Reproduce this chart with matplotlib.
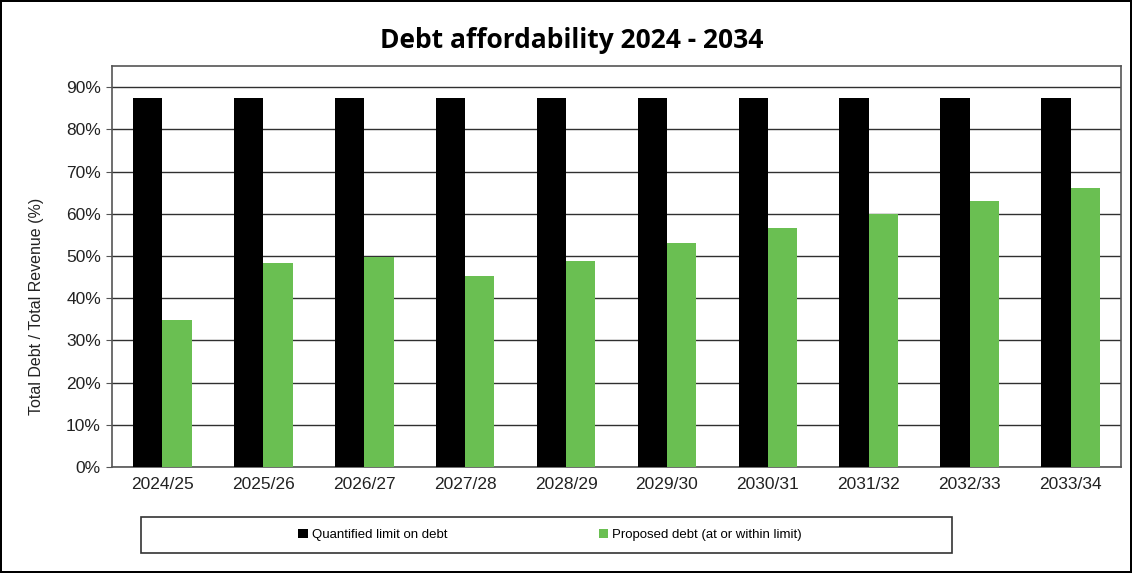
import matplotlib.pyplot as plt
import numpy as np
from matplotlib.patches import Rectangle
from matplotlib.ticker import PercentFormatter

years = ['2024/25', '2025/26', '2026/27', '2027/28', '2028/29',
         '2029/30', '2030/31', '2031/32', '2032/33', '2033/34']
limit = [87.5, 87.5, 87.5, 87.5, 87.5, 87.5, 87.5, 87.5, 87.5, 87.5]
proposed = [34.8, 48.3, 49.8, 45.2, 48.8, 53.1, 56.6, 60.0, 63.0, 66.0]

plt.rcParams['font.family'] = ['Liberation Sans', 'DejaVu Sans']

fig = plt.figure(figsize=(11.32, 5.73), dpi=100)
fig.patch.set_edgecolor('black')
fig.patch.set_linewidth(1.5)
ax = fig.add_axes([112/1132, 1 - 467/573, 1009/1132, 401/573])

x = np.arange(len(years))
w = 0.29
ax.bar(x - w/2, limit, w, color='black', label='Quantified limit on debt', zorder=3)
ax.bar(x + w/2, proposed, w, color='#6abf52', label='Proposed debt (at or within limit)', zorder=3)

ax.set_xlim(-0.5, len(years) - 0.5)
ax.set_ylim(0, 95)
ax.set_yticks(np.arange(0, 91, 10))
ax.yaxis.set_major_formatter(PercentFormatter(decimals=0))
ax.set_xticks(x)
ax.set_xticklabels(years)
ax.tick_params(axis='both', labelsize=12.5, colors='#222222', length=0, pad=7)
ax.tick_params(axis='y', length=4, color='#555555', pad=4)
ax.grid(axis='y', color='#303030', linewidth=1, zorder=0)
for s in ax.spines.values():
    s.set_color('#555555')
    s.set_linewidth(1.2)

ax.set_ylabel('Total Debt / Total Revenue (%)', fontsize=11.5, color='#222222')
ax.yaxis.set_label_coords(-0.067, 0.40)
fig.text(572/1132, 1 - 40/573, 'Debt affordability 2024 - 2034', ha='center', va='center',
         fontsize=19, fontweight='bold', family=['Open Sans', 'DejaVu Sans'])

# legend sits in its own box under the axes
box = Rectangle((141/1132, 1 - 553/573), 811/1132, 36/573, transform=fig.transFigure,
                facecolor='white', edgecolor='#333333', linewidth=1.2)
fig.patches.append(box)
fig.legend(loc='center', bbox_to_anchor=(550/1132, 1 - 535/573), ncol=2, frameon=False,
           fontsize=9.5, handlelength=0.7, handleheight=0.7, handletextpad=0.3,
           columnspacing=11.5)

fig.savefig('out.png', dpi=100)
